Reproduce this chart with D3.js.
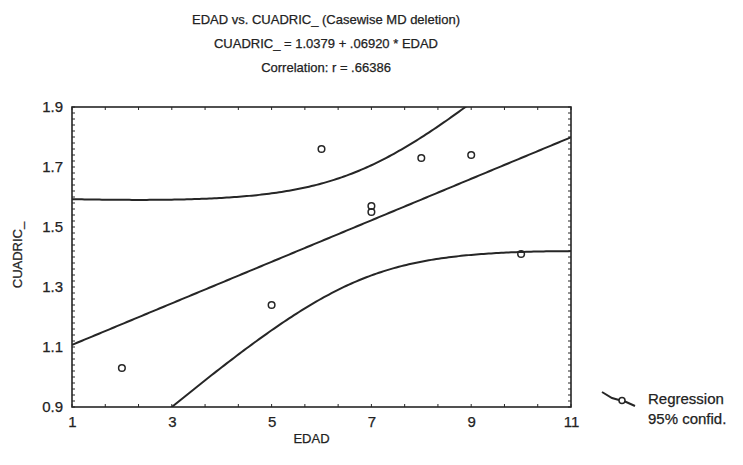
<!DOCTYPE html>
<html>
<head>
<meta charset="utf-8">
<script src="https://cdn.jsdelivr.net/npm/d3@7"></script>
<style>
	body { margin: 0; background: #fff; }
	text { font-family: "Liberation Sans", Arial, sans-serif; fill: #222; stroke: #222; stroke-width: 0.25px; }
</style>
</head>
<body>
<div id="chart-area"></div>
<script>
// data
var edad = [2, 5, 6, 7, 7, 8, 9, 10];
var cuadric = [1.03, 1.24, 1.76, 1.57, 1.55, 1.73, 1.74, 1.41];
var intercept = 1.0379, slope = 0.06920;
var xTicks = [1, 3, 5, 7, 9, 11];
var yTicks = [0.9, 1.1, 1.3, 1.5, 1.7, 1.9];
var titles = ["EDAD vs. CUADRIC_ (Casewise MD deletion)",
	"CUADRIC_ = 1.0379 + .06920 * EDAD",
	"Correlation: r = .66386"];
var legendLabels = ["Regression", "95% confid."];

var margin = {left: 72, right: 172, top: 107, bottom: 58};
var width = 743 - margin.left - margin.right,
	height = 465 - margin.top - margin.bottom;

var svg = d3.select("#chart-area").append("svg")
	.attr("width", 743).attr("height", 465);

var g = svg.append("g")
	.attr("transform", "translate(" + margin.left + "," + margin.top + ")");

var x = d3.scaleLinear().domain([1, 11]).range([0, width]);
var y = d3.scaleLinear().domain([0.9, 1.9]).range([height, 0]);

// titles
titles.forEach(function(t, i){
	svg.append("text")
		.attr("x", 326).attr("y", 24 + i * 24)
		.attr("text-anchor", "middle")
		.attr("font-size", "13px")
		.text(t);
});

// minor ticks (inside, all four sides)
var xMinor = d3.range(1, 11.01, 2 / 3);
var yMinor = d3.range(0.9, 1.901, 0.02);
var ink = "#262626";

function tickSet(cls, data, make){
	g.selectAll("line." + cls).data(data).enter().append("line")
		.attr("class", cls).attr("stroke", ink).attr("stroke-width", 1)
		.each(make);
}
tickSet("xb", xMinor, function(d){
	d3.select(this).attr("x1", x(d)).attr("x2", x(d)).attr("y1", height).attr("y2", height - 3);
});
tickSet("xt", xMinor, function(d){
	d3.select(this).attr("x1", x(d)).attr("x2", x(d)).attr("y1", 0).attr("y2", 3);
});
tickSet("yl", yMinor, function(d){
	d3.select(this).attr("x1", 0).attr("x2", 3).attr("y1", y(d)).attr("y2", y(d));
});
tickSet("yr", yMinor, function(d){
	d3.select(this).attr("x1", width).attr("x2", width - 3).attr("y1", y(d)).attr("y2", y(d));
});

// axes labels
var xAxis = d3.axisBottom(x).tickValues(xTicks).tickSize(0).tickPadding(9)
	.tickFormat(d3.format("d"));
g.append("g").attr("transform", "translate(0," + height + ")").call(xAxis)
	.call(function(a){ a.select(".domain").remove(); })
	.selectAll("text").attr("font-size", "15px").style("font-family", "Liberation Sans, Arial, sans-serif").attr("fill", "#222");

var yAxis = d3.axisLeft(y).tickValues(yTicks).tickSize(0).tickPadding(9)
	.tickFormat(d3.format(".1f"));
g.append("g").call(yAxis)
	.call(function(a){ a.select(".domain").remove(); })
	.selectAll("text").attr("font-size", "15px").style("font-family", "Liberation Sans, Arial, sans-serif").attr("fill", "#222");

g.append("text")
	.attr("x", width / 2 - 10).attr("y", height + 36)
	.attr("text-anchor", "middle").attr("font-size", "13px")
	.text("EDAD");

g.append("text")
	.attr("transform", "rotate(-90)")
	.attr("x", -height / 2 + 2).attr("y", -50)
	.attr("text-anchor", "middle").attr("font-size", "13px")
	.text("CUADRIC_");

// regression line and 95% confidence band, derived from the points
g.append("clipPath").attr("id", "clip")
	.append("rect").attr("width", width).attr("height", height);

var n = edad.length;
var mx = d3.mean(edad);
var sxx = d3.sum(edad, function(v){ return (v - mx) * (v - mx); });
var sse = d3.sum(edad, function(v, i){
	var r = cuadric[i] - (intercept + slope * v);
	return r * r;
});
var s = Math.sqrt(sse / (n - 2));
var tval = 2.447; // t(0.975, 6)
var xs = d3.range(1, 11.001, 0.05);
function fit(v){ return intercept + slope * v; }
function half(v){ return tval * s * Math.sqrt(1 / n + (v - mx) * (v - mx) / sxx); }

var line = d3.line().x(function(d){ return x(d[0]); }).y(function(d){ return y(d[1]); });
var curves = [
	xs.map(function(v){ return [v, fit(v)]; }),
	xs.map(function(v){ return [v, fit(v) + half(v)]; }),
	xs.map(function(v){ return [v, fit(v) - half(v)]; })
];

g.append("g").attr("clip-path", "url(#clip)")
	.selectAll("path").data(curves).enter().append("path")
	.attr("d", line)
	.attr("fill", "none").attr("stroke", ink).attr("stroke-width", 2);

// points
g.selectAll("circle.pt").data(edad).enter().append("circle")
	.attr("class", "pt")
	.attr("cx", function(d){ return x(d); })
	.attr("cy", function(d, i){ return y(cuadric[i]); })
	.attr("r", 3.3)
	.attr("fill", "none").attr("stroke", ink).attr("stroke-width", 1.5);

// frame
g.append("rect").attr("width", width).attr("height", height)
	.attr("fill", "none").attr("stroke", ink).attr("stroke-width", 1.6);

// legend
var legend = svg.append("g").attr("transform", "translate(602,392)");
legend.append("path").attr("d", "M0,0 L10,6 L17,8 L22,9 L33,14")
	.attr("fill", "none").attr("stroke", ink).attr("stroke-width", 2);
legend.append("circle").attr("cx", 20).attr("cy", 8.5).attr("r", 3)
	.attr("fill", "#fff").attr("stroke", ink).attr("stroke-width", 1.5);
legendLabels.forEach(function(t, i){
	legend.append("text").attr("x", 46).attr("y", 12 + i * 20)
		.attr("font-size", "15px").text(t);
});
</script>
</body>
</html>
